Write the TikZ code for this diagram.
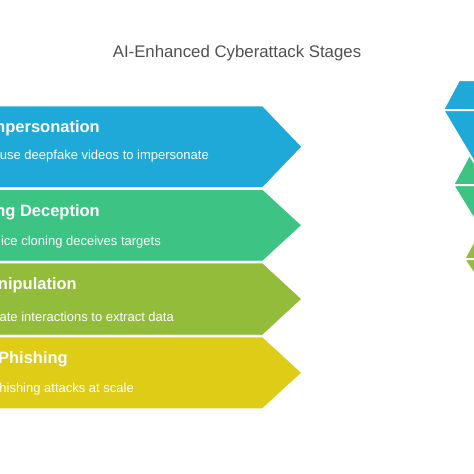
\documentclass[tikz,border=0pt]{standalone}
\usepackage{fontspec}
\setmainfont{Liberation Sans}
\usetikzlibrary{calc}
\definecolor{stageblue}{HTML}{1FA9D9}
\definecolor{stagegreen}{HTML}{3DC484}
\definecolor{stageolive}{HTML}{93BC3A}
\definecolor{stageyellow}{HTML}{DFCC17}
\definecolor{titlegray}{HTML}{505050}
\tikzset{
    band shape/.style={draw=white, line width=2.5pt, line join=round},
    funnel shape/.style={draw=white, line width=2pt, line join=round},
    band title/.style={
        anchor=east,
        inner sep=0pt,
        text=white,
        font=\bfseries\fontsize{16.5}{19}\selectfont
    },
    band text/.style={
        anchor=east,
        inner sep=0pt,
        text=white,
        font=\fontsize{13}{16}\selectfont
    },
    diagram title/.style={text=titlegray, font=\fontsize{16.8}{20}\selectfont}
}
\newcommand{\StageBand}[3]{%
\fill[#1, band shape] (-10,#2) -- (263,#2) -- (303,{(#2+#3)/2})
    -- (263,#3) -- (-10,#3) -- cycle;
}

\begin{document}
\begin{tikzpicture}[x=1pt,y=-1pt]
    \useasboundingbox (0,0) rectangle (474,474);
    \clip (0,0) rectangle (474,474);
    \node[diagram title] (title) at (237,53.5) {AI-Enhanced Cyberattack Stages};
    % stage bands
    \StageBand{stageblue}{105}{188.5}
    \StageBand{stagegreen}{188.5}{262}
    \StageBand{stageolive}{262}{336}
    \StageBand{stageyellow}{336}{409.5}
    \node[band title] (imp title) at (100,128) {mpersonation};
    \node[band text] (imp text) at (209,156) {use deepfake videos to impersonate};
    \node[band title] (voice title) at (100,212) {ng Deception};
    \node[band text] (voice text) at (161,242.5) {ice cloning deceives targets};
    \node[band title] (manip title) at (77,285) {nipulation};
    \node[band text] (manip text) at (174,316.5) {ate interactions to extract data};
    \node[band title] (phish title) at (68,359) {Phishing};
    \node[band text] (phish text) at (134,389.5) {hishing attacks at scale};
    % funnel on the right
    \coordinate (blue left) at (443,110);
    \coordinate (green left) at (453,185);
    \coordinate (olive left) at (464,259);
    \fill[stageolive, funnel shape] (olive left) -- (480,259) -- (480,230) -- cycle;
    \fill[stageolive, funnel shape] (olive left) -- (480,259) -- (480,283) -- cycle;
    \fill[stagegreen, funnel shape] (green left) -- (480,185) -- (480,135) -- cycle;
    \fill[stagegreen, funnel shape] (green left) -- (480,185) -- (480,229) -- cycle;
    \fill[stageblue, funnel shape] (blue left) -- (459,80) -- (480,80) -- (480,110) -- cycle;
    \fill[stageblue, funnel shape] (blue left) -- (480,110) -- (480,172) -- cycle;
\end{tikzpicture}
\end{document}
